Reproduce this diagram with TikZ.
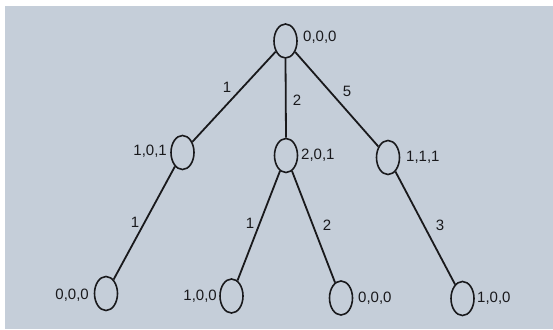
\documentclass[tikz,border=0pt]{standalone}
\usepackage{fontspec}
\setmainfont{Liberation Sans}
\usetikzlibrary{shapes.geometric}
\definecolor{paper}{RGB}{197,206,217}
\definecolor{ink}{RGB}{25,25,28}
\tikzset{
  st/.style={ellipse,draw=ink,line width=1.6pt,minimum width=23pt,minimum height=34pt,inner sep=0pt},
  lab/.style={font=\fontsize{15}{15}\selectfont,text=ink,inner sep=0pt},
  ed/.style={draw=ink,line width=1.8pt}
}
\begin{document}
\begin{tikzpicture}[x=1pt,y=-1pt]
\useasboundingbox (0,0) rectangle (553,329);
\fill[white] (0,0) rectangle (553,329);
\fill[paper] (5,6) rectangle (553,329);
% states
\node[st] (r) at (285.5,41) {};
\node[st] (a) at (182.5,152.5) {};
\node[st] (b) at (286,155.5) {};
\node[st] (c) at (388,157.5) {};
\node[st] (a1) at (106,293.5) {};
\node[st] (b1) at (231.5,296) {};
\node[st] (b2) at (341,298) {};
\node[st] (c1) at (462.5,298.5) {};
% state labels
\node[lab,anchor=west] (lr) at (303,37.5) {0,0,0};
\node[lab,anchor=east] (la) at (167,151.5) {1,0,1};
\node[lab,anchor=west] (lb) at (301,155.5) {2,0,1};
\node[lab,anchor=west] (lc) at (406,157.5) {1,1,1};
\node[lab,anchor=east] (la1) at (89,295) {0,0,0};
\node[lab,anchor=east] (lb1) at (217,296) {1,0,0};
\node[lab,anchor=west] (lb2) at (358,298) {0,0,0};
\node[lab,anchor=west] (lc1) at (477,298.5) {1,0,0};
% edges
\draw[ed] (r) -- (a);
\draw[ed] (r.south) -- (b.north);
\draw[ed] (r) -- (c);
\draw[ed] (a) -- (a1);
\draw[ed] (b) -- (b1);
\draw[ed] (b) -- (b2);
\draw[ed] (c) -- (c1);
% edge labels
\node[lab] (e1) at (227,87) {1};
\node[lab] (e2) at (297,100) {2};
\node[lab] (e3) at (347,91) {5};
\node[lab] (e4) at (135,222) {1};
\node[lab] (e5) at (250,223) {1};
\node[lab] (e6) at (327,225) {2};
\node[lab] (e7) at (440,225) {3};
\end{tikzpicture}
\end{document}
